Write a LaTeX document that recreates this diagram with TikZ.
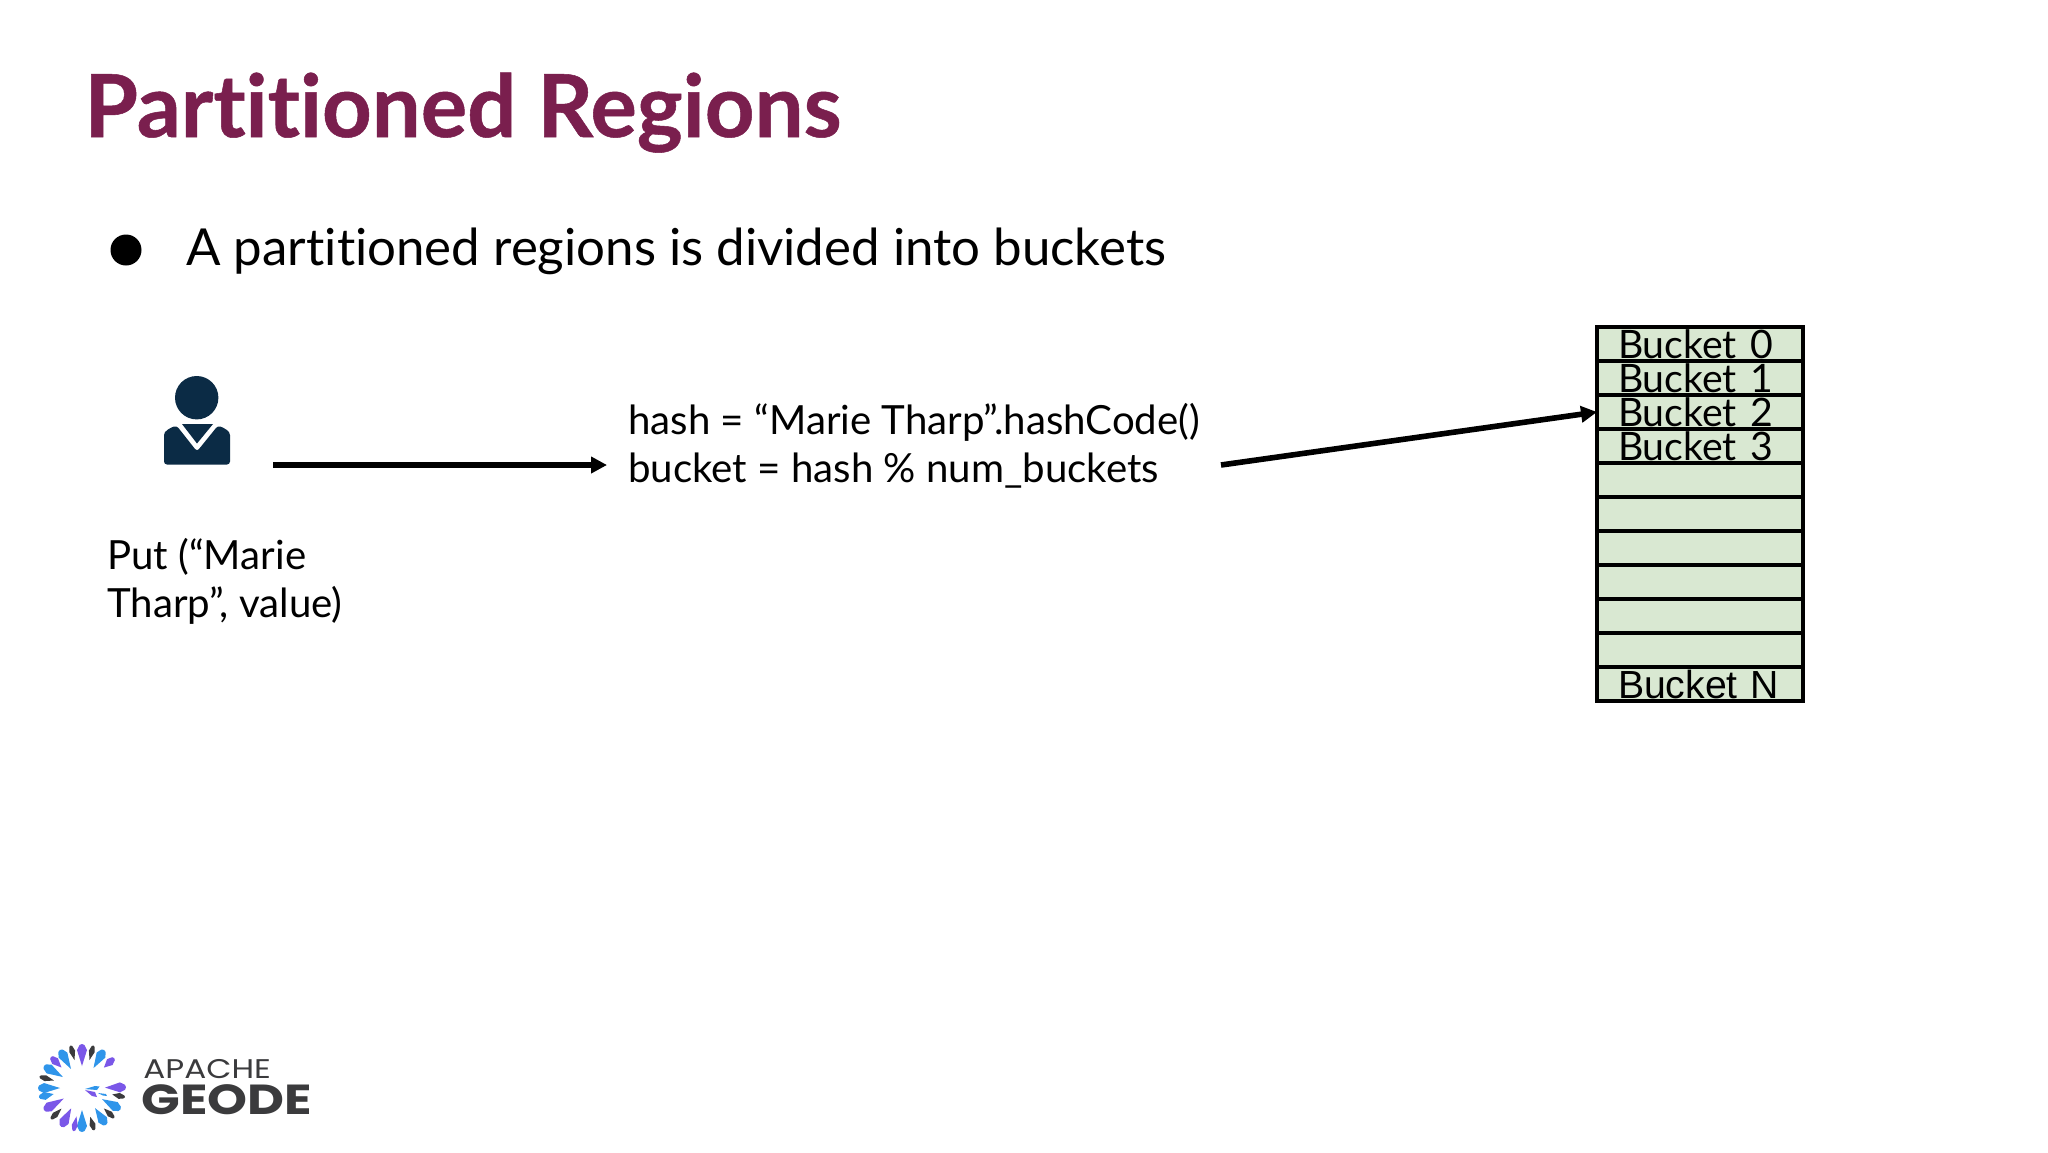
\documentclass[tikz,border=0pt]{standalone}
\usepackage{fontspec}
\setmainfont{Lato}[Ligatures=NoCommon]
\newfontfamily\titlefont{Lato}[Ligatures=NoCommon,BoldFeatures={FakeBold=0.6}]
\newfontfamily\logofont{Poppins}[FakeStretch=1.21]
\newfontfamily\cellfont{Liberation Sans}
\usetikzlibrary{arrows.meta}
\definecolor{titlecol}{HTML}{7A1F4E}
\definecolor{usercol}{HTML}{0B2B45}
\definecolor{cellfill}{HTML}{D9E8D2}
\definecolor{logodark}{HTML}{3B3B3D}
\definecolor{logoblue}{HTML}{2F95EA}
\definecolor{logopurple}{HTML}{7A57E8}
\tikzset{
  titletxt/.style={font=\titlefont\fontsize{43.4}{48}\selectfont\bfseries,text=titlecol,anchor=base west,inner sep=0pt},
  bodytxt/.style={font=\fontsize{25.5}{30}\selectfont,anchor=base west,inner sep=0pt},
  codetxt/.style={font=\fontsize{20.1}{24}\selectfont,anchor=base west,inner sep=0pt,align=left},
  cell/.style={draw=black,fill=cellfill,line width=1.7pt,minimum width=103pt,minimum height=17pt,outer sep=0pt,
    inner ysep=0pt,inner xsep=10.5pt,text width=82pt,align=left,font=\fontsize{19.6}{17}\selectfont},
  fluxo/.style={black,line width=2.8pt,-{Triangle[length=8pt,width=8pt]}},
}
\begin{document}
\begin{tikzpicture}[x=0.5pt,y=-0.5pt]
  \useasboundingbox (0,0) rectangle (2048,1152);
  \fill[white] (0,0) rectangle (2048,1152);
  % --- title and bullet
  \node[titletxt] (title) at (84,137) {Partitioned Regions};
  \node[circle,fill=black,inner sep=0pt,minimum size=15.5pt] (dot) at (126,250) {};
  \node[bodytxt] (line) at (186,265) {A partitioned regions is divided into buckets};
  % --- user icon
  \fill[usercol] (196.7,397.7) circle (21.7*0.5pt);
  \fill[usercol,rounded corners=1.5] (164,438) .. controls (164,431) and (170,428) .. (176.5,425.5)
    -- (197,451.5) -- (218,425.5) .. controls (224,428) and (230,431) .. (230,438)
    -- (230,464.5) -- (164,464.5) -- cycle;
  \fill[usercol] (182,424) -- (213,424) -- (197,443.5) -- cycle;
  \node[codetxt] (put) at (107,617) {Put (“Marie\\Tharp”, value)};
  % --- hash
  \node[codetxt] (hash) at (628,482) {hash = “Marie Tharp”.hashCode()\\bucket = hash \% num\_buckets};
  % --- buckets
  \foreach \i/\name in {0/Bucket 0,1/Bucket 1,2/Bucket 2,3/Bucket 3,4/,5/,6/,7/,8/,9/}
    \node[cell] (b\i) at (1700,{344+34*\i}) {\name};
  \node[cell,font=\cellfont\fontsize{19.6}{17}\selectfont] (bN) at (1700,684) {Bucket N};
  % --- arrows
  \coordinate (from1) at (273,465);
  \coordinate (to1) at (607,465);
  \coordinate (from2) at (1221,465);
  \draw[fluxo] (from1) -- (to1);
  \draw[fluxo] (from2) -- (b2.west);
  % --- logo
  \foreach \ang/\ri/\wd/\col in {90/22/5/logopurple,75/29/3/logodark,60/23/5/logoblue,43/30/4/logopurple,
    1/23/5/logopurple,-12/31/3/logodark,-29/23/5/logoblue,-43/30/3/logodark,-57/24/5/logoblue,
    -74/30/3/logodark,-90/22/5/logoblue,-101/29/3/logopurple,-118/23/5/logopurple,-135/29/3/logodark,
    -150/21/5/logopurple,-168/29/4/logoblue,180/22/5/logoblue,165/29/3/logodark,150/22/5/logoblue,
    135/29/4/logopurple,120/22/5/logoblue,105/29/3/logodark}
    \fill[\col,shift={(82,1088)},rotate=\ang] (\ri,0) -- (38,\wd) -- (43,{\wd*0.5}) -- (44,0) -- (43,{-\wd*0.5}) -- (38,-\wd) -- cycle;
  \fill[logoblue] (85,1089) -- (95,1086) -- (99.5,1086.5) -- (97,1090) -- cycle;
  \fill[logopurple] (85,1090) -- (95,1092) -- (97,1097) -- (92,1096) -- cycle;
  \fill[logoblue] (98,1093) -- (106,1094) -- (107,1096) -- (103,1095.5) -- cycle;
  \node[font=\logofont\fontsize{13.5}{14}\selectfont,text=logodark,anchor=base west,inner sep=0pt] (apache) at (143,1078) {APACHE};
  \node[font=\logofont\fontsize{21}{22}\selectfont\bfseries,text=logodark,anchor=base west,inner sep=0pt] (geode) at (141,1114) {GEODE};
\end{tikzpicture}
\end{document}
